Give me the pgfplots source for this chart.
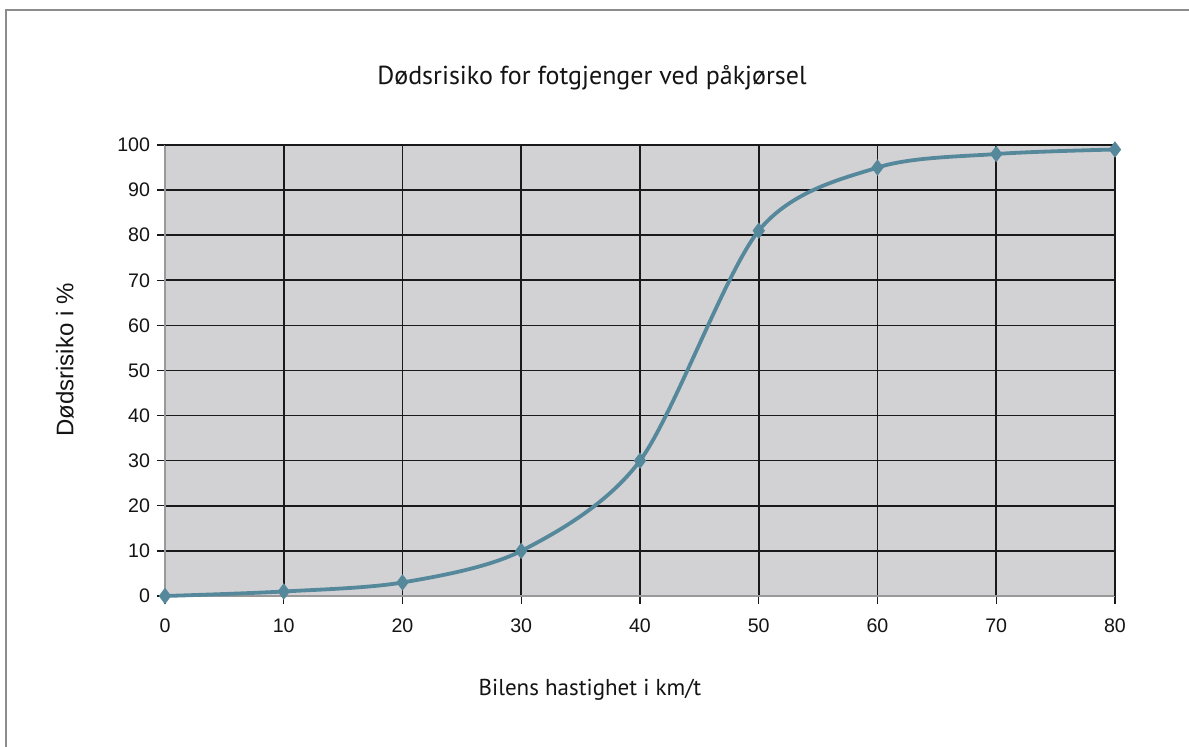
\documentclass[border=0pt]{standalone}
\usepackage{fontspec}
\setmainfont{Liberation Sans}
\newfontfamily\titlefont{PT Sans}
\usepackage{pgfplots}
\pgfplotsset{compat=1.18}
\definecolor{bggray}{RGB}{210,210,212}
\definecolor{linecol}{RGB}{86,136,156}
\definecolor{framegray}{RGB}{140,140,140}
\begin{document}
\begin{tikzpicture}
\useasboundingbox[fill=white] (-82.5bp,-75.5bp) rectangle (512bp,298bp);
\draw[framegray, line width=1.2bp] (-79.5bp,-75.5bp) -- (-79.5bp,293bp) -- (512bp,293bp);
\begin{axis}[
  at={(0,0)}, anchor=south west,
  scale only axis,
  width=475bp, height=225.5bp,
  xmin=0, xmax=80, ymin=0, ymax=100,
  xtick={0,10,...,80}, ytick={0,10,...,100},
  axis x line=bottom, axis y line=left,
  axis line style={-, draw=gray!80, line width=0.9bp},
  tick align=outside,
  major tick length=4bp,
  tick style={black!90, line width=0.7bp},
  grid=major,
  major grid style={black!90, line width=0.8bp},
  axis background/.style={fill=bggray},
  /pgf/number format/assume math mode=true,
  tick label style={font=\fontsize{9.8bp}{11bp}\selectfont, text=black!92},
  xticklabel style={yshift=-4bp},
  clip=false,
]
\draw[black!90, line width=0.8bp] (axis cs:0,100) -- (axis cs:80,100) -- (axis cs:80,0);
\addplot[linecol, line width=1.9bp, smooth, tension=0.5, mark=diamond*, mark size=3.3bp, mark options={fill=linecol, draw=linecol, line width=1bp}]
coordinates {(0,0) (10,1) (20,3) (30,10) (40,30) (50,81) (60,95) (70,98) (80,99)};
\end{axis}
\node[font=\titlefont\fontsize{13bp}{15bp}\selectfont, text=black!92] at (213.5bp,259bp) {Dødsrisiko for fotgjenger ved påkjørsel};
\node[font=\titlefont\fontsize{11.5bp}{13bp}\selectfont, text=black!92] at (212.5bp,-47bp) {Bilens hastighet i km/t};
\node[font=\fontsize{12bp}{14bp}\selectfont, text=black!92, rotate=90] at (-50bp,118bp) {Dødsrisiko i \%};
\end{tikzpicture}
\end{document}
